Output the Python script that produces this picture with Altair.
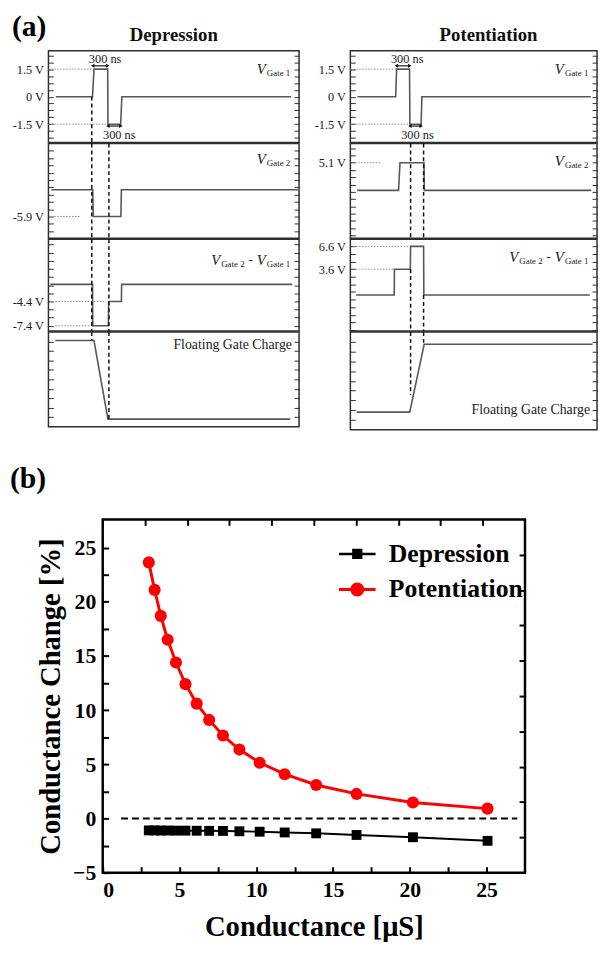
import altair as alt
import pandas as pd

FONT = "Liberation Serif"
WAVE = "#575757"
FRAME = "#2e2e2e"
TXT = "#1a1a1a"

# ======================= (a) pulse diagrams =======================
# time in ns, levels in V (floating gate charge in arbitrary units)
T_MAX = 5120

# ---- Depression column
dep_g1_t = [150, 900, 930, 1210, 1215, 1475, 1500, 4960]
dep_g1_v = [0, 0, 1.5, 1.5, -1.5, -1.5, 0, 0]
dep_g2_t = [60, 905, 915, 1480, 1490, 5100]
dep_g2_v = [-2.3, -2.3, -5.9, -5.9, -2.3, -2.3]
dep_d_t = [40, 900, 905, 1225, 1230, 1490, 1495, 4980]
dep_d_v = [-2.3, -2.3, -7.4, -7.4, -4.4, -4.4, -2.3, -2.3]
dep_fg_t = [140, 930, 1215, 4940]
dep_fg_v = [0.91, 0.91, 0.08, 0.08]

# ---- Potentiation column
pot_g1_t = [150, 940, 960, 1228, 1236, 1468, 1485, 4990]
pot_g1_v = [0, 0, 1.5, 1.5, -1.5, -1.5, 0, 0]
pot_g2_t = [140, 1000, 1030, 1528, 1536, 5000]
pot_g2_v = [0.2, 0.2, 5.1, 5.1, 0.2, 0.2]
pot_d_t = [120, 910, 915, 1245, 1250, 1520, 1525, 4970]
pot_d_v = [0.2, 0.2, 3.6, 3.6, 6.6, 6.6, 0.2, 0.2]
pot_fg_t = [130, 1232, 1532, 5030]
pot_fg_v = [0.18, 0.18, 0.874, 0.874]

# ---- y ranges of each strip
dep_ydom = [[-2.5, 2.5], [-8.83, 3.9], [-8.04, 3.25], [0, 1]]
pot_ydom = [[-2.5, 2.5], [-8.28, 8.5], [-4.53, 7.54], [0, 1]]

# ---- tick anchors / steps and labelled levels
dep_tick_rule = [(0, 0.375), (-5.9, 0.98), (-7.4, 1.0), (0, 0.1)]
pot_tick_rule = [(0, 0.375), (5.1, 1.29), (6.6, 1.0), (0, 0.1)]
g1_labels = [(1.5, "1.5 V"), (0, "0 V"), (-1.5, "-1.5 V")]
dep_labels = [g1_labels, [(-5.9, "-5.9 V")], [(-4.4, "-4.4 V"), (-7.4, "-7.4 V")], []]
pot_labels = [g1_labels, [(5.1, "5.1 V")], [(6.6, "6.6 V"), (3.6, "3.6 V")], []]

# ---- dotted reference levels (t1, t2, level)
dep_dots = [[(0, 905, 1.5), (0, 1212, -1.5)], [(120, 640, -5.9)],
            [(140, 1180, -4.4), (140, 900, -7.4)], []]
pot_dots = [[(0, 950, 1.5), (0, 1232, -1.5)], [(100, 650, 5.1)],
            [(60, 1245, 6.6), (60, 913, 3.6)], []]

# ---- dashed timing markers (t, level top, level bottom)
dep_dashes = [[(885, 0, -2.5)],
              [(885, 3.9, -8.83), (1235, 3.9, -8.83)],
              [(885, 3.25, -8.04), (1235, 3.25, -8.04)],
              [(885, 1.0, 0.91), (1235, 1.0, 0.08)]]
pot_dashes = [[],
              [(1250, 8.5, -8.28), (1520, 8.5, -8.28)],
              [(1250, 3.6, -4.53), (1520, 0.2, -4.53)],
              [(1250, 1.0, 0.356), (1520, 1.0, 0.874)]]

# ---- 300 ns arrows (t1, t2, level) and their captions (t, level)
dep_arrows = [(905, 1210, 1.68), (1215, 1480, -1.6)]
pot_arrows = [(955, 1232, 1.68), (1236, 1470, -1.6)]
dep_ns_text = [(1157, 2.03), (1446, -2.08)]
pot_ns_text = [(1180, 2.03), (1393, -2.08)]

# ---- strip captions: level of caption in each strip
strip_kinds = ["g1", "g2", "diff", "fg"]
dep_caption_v = [1.48, 1.8, 0.73, 0.86]
pot_caption_v = [1.48, 5.39, 5.2, 0.2]

# ---- panel letters
panel_letters = ["(a)", "(b)"]

# ======================= (b) conductance change =======================
conductance = [3.00, 3.38, 3.78, 4.23, 4.77, 5.39, 6.12, 6.93, 7.83, 8.90,
               10.22, 11.85, 13.90, 16.53, 20.20, 25.06]
potentiation = [23.64, 21.10, 18.70, 16.50, 14.40, 12.40, 10.60, 9.10, 7.66, 6.36,
                5.15, 4.09, 3.09, 2.27, 1.48, 0.91]
depression = [-1.10, -1.10, -1.11, -1.11, -1.12, -1.12, -1.13, -1.14, -1.15, -1.18,
              -1.22, -1.29, -1.37, -1.52, -1.73, -2.06]
series_names = ["Depression", "Potentiation"]
series_colors = ["#000000", "#ff0000"]
zero_line_x = [1.2, 27.0]
zero_line_y = [0, 0]

# ---------------------------------------------------------------------------
BOTTOM_TICKS = [round(T_MAX * k / 12, 2) for k in range(1, 12)]
LEFT_W, RIGHT_W = 254, 250
dep_heights = [93, 96, 93, 96]
pot_heights = [93, 96, 93, 99]


def ticks_from(anchor, step, lo, hi):
    out = []
    for k in range(-200, 201):
        val = anchor + k * step
        if lo + 1e-6 < val < hi - 1e-6:
            out.append(round(val, 4))
    return out


def label_expr(labels):
    expr = "''"
    for val, txt in labels:
        expr = f"abs(datum.value - ({val})) < 0.001 ? '{txt}' : " + expr
    return expr


def letter_layer(letter, px, py):
    return alt.Chart(pd.DataFrame({"s": [letter]})).mark_text(
        font=FONT, fontSize=30, fontWeight="bold", align="left", baseline="middle",
        color="black", fill="black").encode(x=alt.value(px), y=alt.value(py), text="s:N")


def caption_layers(kind, v, w, xs, ys):
    k = T_MAX / w
    anchor = 4940
    if kind == "fg":
        df = pd.DataFrame({"t": [anchor + 35], "v": [v], "s": ["Floating Gate Charge"]})
        return [alt.Chart(df).mark_text(font=FONT, fontSize=14, align="right", baseline="middle",
                                        color=TXT, fill=TXT).encode(
            x=alt.X("t:Q", scale=xs, axis=None),
            y=alt.Y("v:Q", scale=ys, axis=None),
            text="s:N")]
    if kind in ("g1", "g2"):
        sub = "Gate 1" if kind == "g1" else "Gate 2"
        mains = [(24.8, "V")]
        subs = [(0, sub)]
        ops = []
    else:
        mains = [(71.0, "V"), (24.8, "V")]
        subs = [(46.3, "Gate 2"), (0, "Gate 1")]
        ops = [(38.0, "-")]
    out = []
    styles = [(mains, dict(fontSize=15, fontStyle="italic", dy=0)),
              (subs, dict(fontSize=9, dy=4)),
              (ops, dict(fontSize=13, dy=0))]
    for parts, st in styles:
        if not parts:
            continue
        df = pd.DataFrame({"t": [anchor - off * k for off, _ in parts],
                           "v": [v] * len(parts),
                           "s": [s for _, s in parts]})
        out.append(alt.Chart(df).mark_text(font=FONT, align="right", baseline="middle",
                                           color=TXT, fill=TXT, **st).encode(
            x=alt.X("t:Q", scale=xs, axis=None),
            y=alt.Y("v:Q", scale=ys, axis=None),
            text="s:N"))
    return out


def strip(t, v, ydom, w, h, tick_rule, labels, dots, dashes, kind, cap_v,
          arrows=None, ns_text=None, bottom=False, title=None, title_dx=0, letter=None):
    xs = alt.Scale(domain=[0, T_MAX], nice=False, zero=False)
    ys = alt.Scale(domain=ydom, nice=False, zero=False)
    ticks = ticks_from(tick_rule[0], tick_rule[1], ydom[0], ydom[1])
    wave_df = pd.DataFrame({"t": t, "v": v, "o": list(range(len(t)))})
    if bottom:
        x_axis = alt.Axis(orient="bottom", values=BOTTOM_TICKS, labels=False, tickSize=5,
                          offset=-5, domain=False, grid=False, title=None, tickColor=FRAME)
    else:
        x_axis = None
    left_axis = alt.Axis(orient="left", values=ticks, labelExpr=label_expr(labels), tickSize=5,
                         offset=-5, domain=False, grid=False, title=None, labelFont=FONT,
                         labelFontSize=12.5, labelColor=TXT, labelPadding=5, tickColor=FRAME,
                         labelOverlap=False)
    right_axis = alt.Axis(orient="right", values=ticks, labels=False, tickSize=5, offset=-5,
                          domain=False, grid=False, title=None, tickColor=FRAME)
    wave = alt.Chart(wave_df).mark_line(color=WAVE, strokeWidth=1.6).encode(
        x=alt.X("t:Q", scale=xs, axis=x_axis),
        y=alt.Y("v:Q", scale=ys, axis=left_axis),
        order="o:Q")
    mirror = alt.Chart(wave_df).mark_line(opacity=0).encode(
        x=alt.X("t:Q", scale=xs, axis=None),
        y=alt.Y("v:Q", scale=ys, axis=right_axis),
        order="o:Q")
    layers = [wave, mirror]
    if dots:
        ddf = pd.DataFrame(dots, columns=["t1", "t2", "v"])
        layers.append(alt.Chart(ddf).mark_rule(color="#8a8a8a", strokeDash=[1.5, 1.5],
                                               strokeWidth=1).encode(
            x=alt.X("t1:Q", scale=xs, axis=None), x2="t2:Q",
            y=alt.Y("v:Q", scale=ys, axis=None)))
    if dashes:
        sdf = pd.DataFrame(dashes, columns=["t", "v1", "v2"])
        layers.append(alt.Chart(sdf).mark_rule(color="#111111", strokeDash=[4, 3],
                                               strokeWidth=1.5).encode(
            x=alt.X("t:Q", scale=xs, axis=None),
            y=alt.Y("v1:Q", scale=ys, axis=None), y2="v2:Q"))
    if arrows:
        adf = pd.DataFrame(arrows, columns=["t1", "t2", "v"])
        layers.append(alt.Chart(adf).mark_rule(color="#111111", strokeWidth=1.2).encode(
            x=alt.X("t1:Q", scale=xs, axis=None), x2="t2:Q",
            y=alt.Y("v:Q", scale=ys, axis=None)))
        layers.append(alt.Chart(adf).mark_point(shape="triangle-left", filled=True, size=16,
                                                color="#111111", opacity=1).encode(
            x=alt.X("t1:Q", scale=xs, axis=None), y=alt.Y("v:Q", scale=ys, axis=None)))
        layers.append(alt.Chart(adf).mark_point(shape="triangle-right", filled=True, size=16,
                                                color="#111111", opacity=1).encode(
            x=alt.X("t2:Q", scale=xs, axis=None), y=alt.Y("v:Q", scale=ys, axis=None)))
    if ns_text:
        ndf = pd.DataFrame(ns_text, columns=["t", "v"])
        ndf["s"] = "300 ns"
        layers.append(alt.Chart(ndf).mark_text(font=FONT, fontSize=12.5, color=TXT,
                                               fill=TXT).encode(
            x=alt.X("t:Q", scale=xs, axis=None), y=alt.Y("v:Q", scale=ys, axis=None),
            text="s:N"))
    layers += caption_layers(kind, cap_v, w, xs, ys)
    if letter:
        layers.append(letter_layer(letter[0], -37, letter[1]))
    ch = alt.layer(*layers).resolve_axis(y="independent").properties(
        width=w, height=h, view=alt.ViewConfig(stroke=FRAME, strokeWidth=1.5))
    if title:
        ch = ch.properties(title=alt.TitleParams(title, font=FONT, fontSize=19, fontWeight="bold",
                                                 anchor="middle", frame="group", offset=5,
                                                 dx=title_dx, color="#111111"))
    return ch


def column(ts, vs, ydoms, w, heights, tick_rules, labels, dots, dashes, cap_vs,
           arrows, ns_text, title, title_dx, letter=None):
    strips = []
    for i in range(4):
        # the panel letter is carried by the second strip, placed above the first one
        let = (letter, -24.5 - heights[0] - 1) if (letter and i == 1) else None
        strips.append(strip(ts[i], vs[i], ydoms[i], w, heights[i], tick_rules[i], labels[i],
                            dots[i], dashes[i], strip_kinds[i], cap_vs[i],
                            arrows=arrows if i == 0 else None,
                            ns_text=ns_text if i == 0 else None,
                            bottom=(i == 3),
                            title=title if i == 0 else None, title_dx=title_dx,
                            letter=let))
    return alt.vconcat(*strips, spacing=1, bounds="flush")


dep_col = column([dep_g1_t, dep_g2_t, dep_d_t, dep_fg_t], [dep_g1_v, dep_g2_v, dep_d_v, dep_fg_v],
                 dep_ydom, LEFT_W, dep_heights, dep_tick_rule, dep_labels, dep_dots, dep_dashes,
                 dep_caption_v, dep_arrows, dep_ns_text, "Depression", 0, letter=panel_letters[0])
pot_col = column([pot_g1_t, pot_g2_t, pot_d_t, pot_fg_t], [pot_g1_v, pot_g2_v, pot_d_v, pot_fg_v],
                 pot_ydom, RIGHT_W, pot_heights, pot_tick_rule, pot_labels, pot_dots, pot_dashes,
                 pot_caption_v, pot_arrows, pot_ns_text, "Potentiation", 15)

row_a = alt.hconcat(dep_col, pot_col, spacing=11)

# ----------------------------- panel (b) -----------------------------
xs_b = alt.Scale(domain=[0, 27.5], nice=False, zero=False)
ys_b = alt.Scale(domain=[-5, 27.6], nice=False, zero=False)

df_b = pd.DataFrame({
    "g": conductance + conductance,
    "c": depression + potentiation,
    "series": [series_names[0]] * len(conductance) + [series_names[1]] * len(conductance),
})
df_zero = pd.DataFrame({"x": zero_line_x, "y": zero_line_y})

common_tick = dict(tickSize=6, offset=-6, tickWidth=2, tickColor="black", domain=False, grid=False)
lab = dict(labelFont=FONT, labelFontSize=22, labelFontWeight="bold", labelColor="black",
           labelOverlap=False)
ttl = dict(titleFont=FONT, titleFontSize=29, titleFontWeight="bold", titleColor="black")

ax_bottom = alt.Axis(orient="bottom", values=[2.5 * k for k in range(0, 11)],
                     labelExpr="datum.value % 5 == 0 ? datum.label : ''", labelPadding=7,
                     title="Conductance [μS]", titlePadding=13, **common_tick, **lab, **ttl)
ax_left = alt.Axis(orient="left", values=[-5 + 2.5 * k for k in range(0, 13)],
                   labelExpr="datum.value % 5 == 0 ? datum.label : ''", labelPadding=7,
                   title="Conductance Change [%]", titlePadding=7, **common_tick, **lab, **ttl)
ax_top = alt.Axis(orient="top", values=[round(2.75 * k, 3) for k in range(1, 10)], labels=False,
                  title=None, **common_tick)
ax_right = alt.Axis(orient="right", values=[round(-5 + 3.26 * k, 3) for k in range(1, 10)],
                    labels=False, title=None, **common_tick)

zero_layer = alt.Chart(df_zero).mark_line(color="black", strokeDash=[7, 4], strokeWidth=1.8).encode(
    x=alt.X("x:Q", scale=xs_b, axis=ax_bottom),
    y=alt.Y("y:Q", scale=ys_b, axis=ax_left))

dep_df = df_b[df_b.series == "Depression"]
pot_df = df_b[df_b.series == "Potentiation"]

dep_line = alt.Chart(dep_df).mark_line(color="black", strokeWidth=2).encode(
    x=alt.X("g:Q", scale=xs_b, axis=ax_top),
    y=alt.Y("c:Q", scale=ys_b, axis=ax_right))
pot_line = alt.Chart(pot_df).mark_line(color="#ff0000", strokeWidth=3).encode(
    x=alt.X("g:Q", scale=xs_b, axis=None), y=alt.Y("c:Q", scale=ys_b, axis=None))
dep_pts = alt.Chart(dep_df).mark_point(shape="square", filled=True, size=100, color="black",
                                       opacity=1).encode(
    x=alt.X("g:Q", scale=xs_b, axis=None), y=alt.Y("c:Q", scale=ys_b, axis=None))
pot_pts = alt.Chart(pot_df).mark_point(shape="circle", filled=True, size=150, color="#ff0000",
                                       opacity=1).encode(
    x=alt.X("g:Q", scale=xs_b, axis=None), y=alt.Y("c:Q", scale=ys_b, axis=None))

dep_sym = "M-2.85,-0.2H-0.75V0.2H-2.85Z M0.75,-0.2H2.85V0.2H0.75Z M-0.8,-0.8H0.8V0.8H-0.8Z"
pot_sym = ("M-2.85,-0.25H-1V0.25H-2.85Z M1,-0.25H2.85V0.25H1Z "
           "M1.08,0A1.08,1.08,0,1,1,-1.08,0A1.08,1.08,0,1,1,1.08,0Z")
leg = alt.Legend(title=None, orient="none", legendX=245, legendY=22, labelFont=FONT,
                 labelFontSize=26, labelFontWeight="bold", labelColor="black", symbolSize=169,
                 labelOffset=19, rowPadding=10, padding=0, symbolStrokeWidth=0)
legend_layer = alt.Chart(df_b).mark_point(filled=True, size=169, opacity=1).encode(
    x=alt.X("g:Q", scale=xs_b, axis=None), y=alt.Y("c:Q", scale=ys_b, axis=None),
    color=alt.Color("series:N", scale=alt.Scale(domain=series_names, range=series_colors),
                    legend=leg),
    shape=alt.Shape("series:N", scale=alt.Scale(domain=series_names, range=[dep_sym, pot_sym]),
                    legend=leg),
).transform_filter("false")

panel_b = alt.layer(zero_layer, dep_line, pot_line, dep_pts, pot_pts, legend_layer,
                    letter_layer(panel_letters[1], -94, -41)).resolve_axis(
    x="independent", y="independent").properties(
    width=428, height=358, view=alt.ViewConfig(stroke="black", strokeWidth=2.5))

spacer = alt.Chart(pd.DataFrame({"s": [0]})).mark_point(opacity=0).encode(
    x=alt.value(0), y=alt.value(0)).properties(
    width=1, height=1, view=alt.ViewConfig(stroke="transparent", strokeWidth=0))

row_b = alt.hconcat(spacer, panel_b, spacing=-44).resolve_scale(
    color="independent", shape="independent")

chart = alt.vconcat(row_a, row_b, spacing=32).resolve_scale(
    color="independent", shape="independent").properties(
    padding={"left": 0, "top": -4, "right": 0, "bottom": 0}).configure(background="white")

chart.save("out.html", embed_options={"renderer": "svg", "actions": False})
